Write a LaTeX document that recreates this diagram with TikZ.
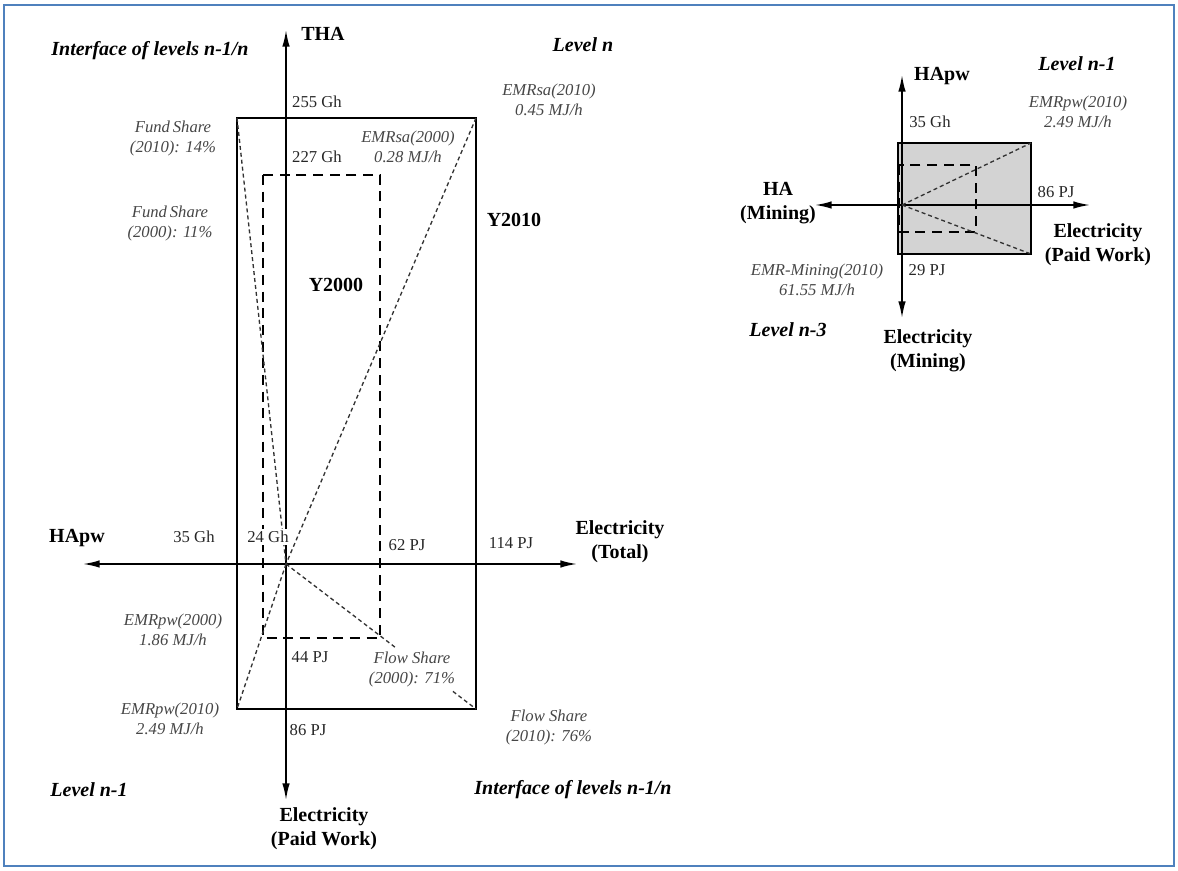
\documentclass[tikz,border=0pt]{standalone}
\usepackage{fontspec}
\setmainfont{Liberation Serif}
\usetikzlibrary{
  arrows.meta,
  positioning,
  calc
}
\definecolor{frameblue}{RGB}{79,129,189}
\definecolor{boxgray}{RGB}{211,211,211}
\definecolor{notegray}{RGB}{70,70,70}

\tikzset{
  value/.style={font=\fontsize{10}{12}\selectfont, text=black!85, inner sep=0pt},
  note/.style={font=\fontsize{10}{12}\selectfont\itshape, text=notegray, align=center, inner sep=0pt},
  axislabel/.style={font=\fontsize{12}{14.4}\selectfont\bfseries, align=center, inner sep=0pt},
  levellabel/.style={font=\fontsize{12}{14.4}\selectfont\bfseries\itshape, inner sep=0pt},
  axisline/.style={line width=1pt, {Latex[length=10pt,width=4.5pt]}-{Latex[length=10pt,width=4.5pt]}},
  yearbox/.style={line width=1.7pt},
  yeardashed/.style={line width=1.7pt, dash pattern=on 6pt off 4pt},
  shareline/.style={line width=0.8pt, dash pattern=on 2.4pt off 1.8pt, black!80}
}

\begin{document}
\begin{tikzpicture}[x=0.6pt,y=-0.6pt]
  \useasboundingbox (0,0) rectangle (1178,871);
  \draw[frameblue, line width=1.5pt] (4,5) rectangle (1174,866);

  % Left diagram -- origin at (286,564)
  \coordinate (O) at (286,564);
  \coordinate (thaTip) at (286,30);
  \coordinate (paidTip) at (286,800);
  \coordinate (hapwTip) at (83,564);
  \coordinate (totalTip) at (577,564);

  % Y2010 and Y2000 boxes
  \draw[yearbox] (237,118) rectangle (476,709);
  \draw[yeardashed] (263,175) rectangle (380,638);

  % Axes
  \draw[axisline] (paidTip) -- (thaTip);
  \draw[axisline] (hapwTip) -- (totalTip);

  % Share lines
  \draw[shareline] (237,118) -- (O);
  \draw[shareline] (476,118) -- (O);
  \draw[shareline] (O) -- (237,709);
  \draw[shareline] (O) -- (476,709);

  % Labels
  \node[levellabel] (ifaceTop) at (150,51) {Interface of levels n-1/n};
  \node[axislabel] (tha) at (323,34) {THA};
  \node[levellabel] (levelN) at (583,45) {Level n};
  \node[note] (emrsaTen) at (549,100) {EMRsa(2010)\\0.45 MJ/h};
  \node[value] (thaTen) at (317,102) {255 Gh};
  \node[note] (fundTen) at (173,138) {Fund\thinspace Share\\(2010): 14\%};
  \node[value] (thaZero) at (317,157) {227 Gh};
  \node[note] (emrsaZero) at (408,147) {EMRsa(2000)\\0.28 MJ/h};
  \node[note] (fundZero) at (170,223) {Fund\thinspace Share\\(2000): 11\%};
  \node[axislabel] (yTen) at (514,220) {Y2010};
  \node[axislabel] (yZero) at (336,285) {Y2000};

  \node[axislabel] (hapw) at (77,538) {HApw};
  \node[value] (hapwTen) at (194,537) {35 Gh};
  \node[value, fill=white, inner sep=1.5pt] (hapwZero) at (268,537) {24 Gh};
  \node[value] (totalZero) at (407,545) {62 PJ};
  \node[value] (totalTen) at (511,543) {114 PJ};
  \node[axislabel] (total) at (620,542) {Electricity\\(Total)};

  \node[note] (emrpwZero) at (173,630) {EMRpw(2000)\\1.86 MJ/h};
  \node[value] (paidZero) at (310,657) {44 PJ};
  \node[note, fill=white, inner sep=2pt] (flowZero) at (412,669) {Flow Share\\(2000): 71\%};
  \node[note] (emrpwTen) at (170,719) {EMRpw(2010)\\2.49 MJ/h};
  \node[value] (paidTen) at (308,730) {86 PJ};
  \node[note] (flowTen) at (549,727) {Flow Share\\(2010): 76\%};

  \node[levellabel] (levelNm) at (89,790) {Level n-1};
  \node[levellabel] (ifaceBot) at (573,790) {Interface of levels n-1/n};
  \node[axislabel] (paid) at (324,829) {Electricity\\(Paid Work)};

  % Right diagram -- origin at (902,205)
  \coordinate (P) at (902,205);
  \coordinate (hapwUp) at (902,75);
  \coordinate (miningDown) at (902,318);
  \coordinate (haLeft) at (815,205);
  \coordinate (paidRight) at (1090,205);

  \draw[yearbox, fill=boxgray] (898,143) rectangle (1031,254);
  \draw[axisline] (miningDown) -- (hapwUp);
  \draw[axisline] (haLeft) -- (paidRight);
  \draw[yeardashed] (899,165) rectangle (976,232);
  \draw[shareline] (P) -- (1031,143);
  \draw[shareline] (P) -- (1031,254);

  \node[axislabel] (hapwR) at (942,76) {HApw};
  \node[levellabel] (levelNmR) at (1077,64) {Level n-1};
  \node[note] (emrpwR) at (1078,112) {EMRpw(2010)\\2.49 MJ/h};
  \node[value] (hapwVal) at (930,122) {35 Gh};
  \node[axislabel] (ha) at (778,203) {HA\\(Mining)};
  \node[value] (paidVal) at (1056,192) {86 PJ};
  \node[axislabel] (paidR) at (1098,245) {Electricity\\(Paid Work)};
  \node[note] (emrMining) at (817,280) {EMR-Mining(2010)\\61.55 MJ/h};
  \node[value] (miningVal) at (927,270) {29 PJ};
  \node[levellabel] (levelNt) at (788,330) {Level n-3};
  \node[axislabel] (mining) at (928,351) {Electricity\\(Mining)};
\end{tikzpicture}
\end{document}
